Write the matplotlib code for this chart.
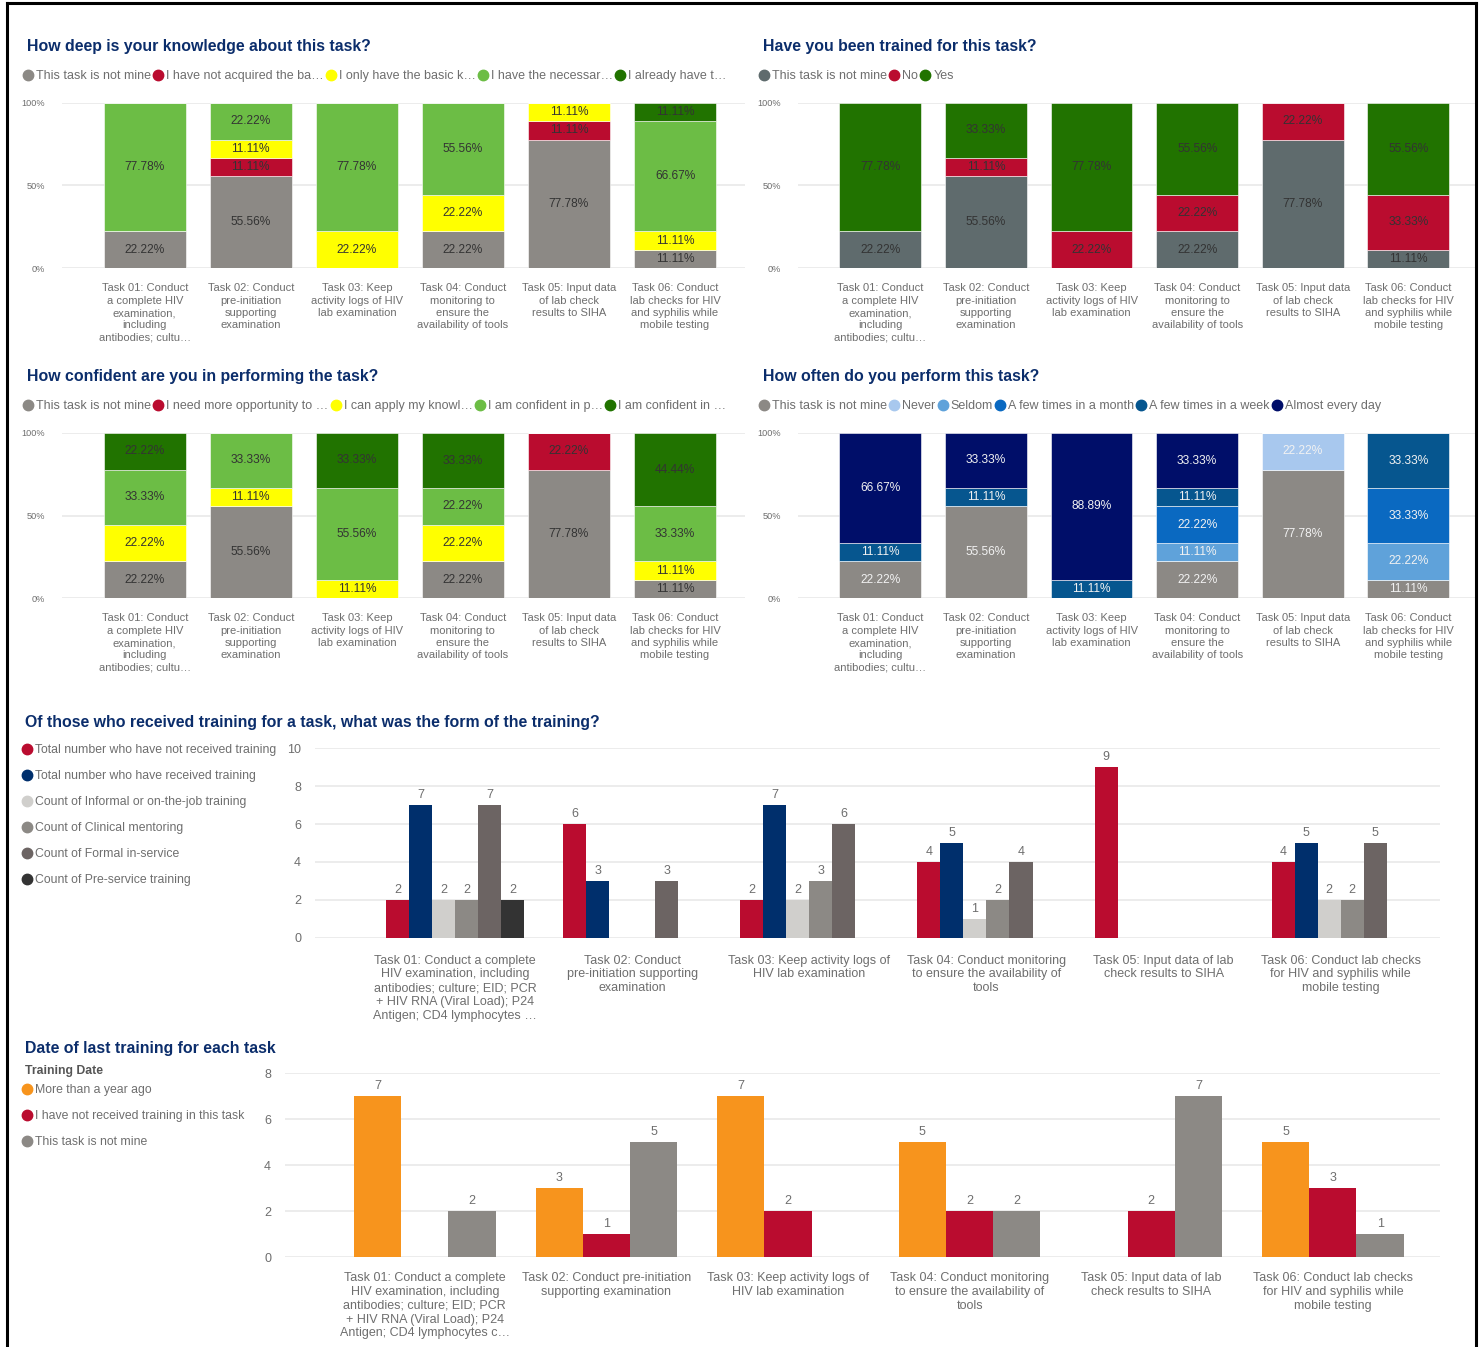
import matplotlib
matplotlib.use("Agg")
import numpy as np
import matplotlib.pyplot as plt
from matplotlib.lines import Line2D

plt.rcParams["font.family"] = ["Liberation Sans", "DejaVu Sans"]

W, H = 1483, 1347

# ---------------- data ----------------
tasks_short = [
    "Task 01: Conduct\na complete HIV\nexamination,\nincluding\nantibodies; cultu…",
    "Task 02: Conduct\npre-initiation\nsupporting\nexamination",
    "Task 03: Keep\nactivity logs of HIV\nlab examination",
    "Task 04: Conduct\nmonitoring to\nensure the\navailability of tools",
    "Task 05: Input data\nof lab check\nresults to SIHA",
    "Task 06: Conduct\nlab checks for HIV\nand syphilis while\nmobile testing",
]

# knowledge (% per task)
know_labels = ["This task is not mine", "I have not acquired the ba…", "I only have the basic k…",
               "I have the necessar…", "I already have t…"]
know_notmine = [22.22, 55.56, 0, 22.22, 77.78, 11.11]
know_notacq = [0, 11.11, 0, 0, 11.11, 0]
know_basic = [0, 11.11, 22.22, 22.22, 11.11, 11.11]
know_necessary = [77.78, 22.22, 77.78, 55.56, 0, 66.67]
know_already = [0, 0, 0, 0, 0, 11.11]

# trained
trained_labels = ["This task is not mine", "No", "Yes"]
trained_notmine = [22.22, 55.56, 0, 22.22, 77.78, 11.11]
trained_no = [0, 11.11, 22.22, 22.22, 22.22, 33.33]
trained_yes = [77.78, 33.33, 77.78, 55.56, 0, 55.56]

# confidence
conf_labels = ["This task is not mine", "I need more opportunity to …", "I can apply my knowl…",
               "I am confident in p…", "I am confident in …"]
conf_notmine = [22.22, 55.56, 0, 22.22, 77.78, 11.11]
conf_more = [0, 0, 0, 0, 22.22, 0]
conf_apply = [22.22, 11.11, 11.11, 22.22, 0, 11.11]
conf_confp = [33.33, 33.33, 55.56, 22.22, 0, 33.33]
conf_conf = [22.22, 0, 33.33, 33.33, 0, 44.44]

# frequency
freq_labels = ["This task is not mine", "Never", "Seldom", "A few times in a month",
               "A few times in a week", "Almost every day"]
freq_notmine = [22.22, 55.56, 0, 22.22, 77.78, 11.11]
freq_never = [0, 0, 0, 0, 22.22, 0]
freq_seldom = [0, 0, 0, 11.11, 0, 22.22]
freq_month = [0, 0, 0, 22.22, 0, 33.33]
freq_week = [11.11, 11.11, 11.11, 11.11, 0, 33.33]
freq_day = [66.67, 33.33, 88.89, 33.33, 0, 0]

# form of training (counts)
form_tasks = [
    "Task 01: Conduct a complete\nHIV examination, including\nantibodies; culture; EID; PCR\n+ HIV RNA (Viral Load); P24\nAntigen; CD4 lymphocytes …",
    "Task 02: Conduct\npre-initiation supporting\nexamination",
    "Task 03: Keep activity logs of\nHIV lab examination",
    "Task 04: Conduct monitoring\nto ensure the availability of\ntools",
    "Task 05: Input data of lab\ncheck results to SIHA",
    "Task 06: Conduct lab checks\nfor HIV and syphilis while\nmobile testing",
]
form_labels = ["Total number who have not received training", "Total number who have received training",
               "Count of Informal or on-the-job training", "Count of Clinical mentoring",
               "Count of Formal in-service", "Count of Pre-service training"]
form_not_received = [2, 6, 2, 4, 9, 4]
form_received = [7, 3, 7, 5, 0, 5]
form_informal = [2, 0, 2, 1, 0, 2]
form_clinical = [2, 0, 3, 2, 0, 2]
form_formal = [7, 3, 6, 4, 0, 5]
form_preservice = [2, 0, 0, 0, 0, 0]

# date of last training (counts)
date_tasks = [
    "Task 01: Conduct a complete\nHIV examination, including\nantibodies; culture; EID; PCR\n+ HIV RNA (Viral Load); P24\nAntigen; CD4 lymphocytes c…",
    "Task 02: Conduct pre-initiation\nsupporting examination",
    "Task 03: Keep activity logs of\nHIV lab examination",
    "Task 04: Conduct monitoring\nto ensure the availability of\ntools",
    "Task 05: Input data of lab\ncheck results to SIHA",
    "Task 06: Conduct lab checks\nfor HIV and syphilis while\nmobile testing",
]
date_labels = ["More than a year ago", "I have not received training in this task", "This task is not mine"]
date_more_year = [7, 3, 7, 5, 0, 5]
date_not_received = [0, 1, 2, 2, 2, 3]
date_not_mine = [2, 5, 0, 2, 7, 1]

# ---------------- style ----------------
NAVY = "#0b2d6b"
TXT = "#6e6e6e"
GRID = "#ebebeb"
GREY = "#8c8985"
RED = "#ba0c2f"
YELLOW = "#ffff00"
LGREEN = "#6cbd45"
DGREEN = "#217300"

fig = plt.figure(figsize=(W / 100, H / 100), dpi=100)


def px_axes(x0, y0, x1, y1):
    return fig.add_axes([x0 / W, 1 - y1 / H, (x1 - x0) / W, (y1 - y0) / H])


def fx(x):
    return x / W


def fy(y):
    return 1 - y / H


def style_axes(ax, ticks, fmt, fs):
    ax.set_yticks(ticks)
    ax.set_yticklabels([fmt(t) for t in ticks], fontsize=fs, color=TXT)
    ax.grid(axis="y", color=GRID, linewidth=1.3)
    ax.set_axisbelow(True)
    for s in ax.spines.values():
        s.set_visible(False)
    ax.tick_params(axis="both", length=0)


def dots(colors):
    return [Line2D([], [], marker="o", linestyle="", markersize=7.5, color=c) for c in colors]


def legend_row(x, y, labels, colors, fs=9):
    fig.legend(dots(colors), labels, loc="upper left", bbox_to_anchor=(fx(x), fy(y)),
               ncol=len(labels), frameon=False, fontsize=fs, labelcolor=TXT,
               handlelength=0.7, handletextpad=0.3, columnspacing=0.2, borderpad=0,
               borderaxespad=0)


def legend_col(x, y, labels, colors):
    fig.legend(dots(colors), labels, loc="upper left", bbox_to_anchor=(fx(x), fy(y)), ncol=1,
               frameon=False, fontsize=8.8, labelcolor=TXT, handlelength=0.7, handletextpad=0.3,
               labelspacing=1.15, borderpad=0, borderaxespad=0)


def stacked_panel(box, title, tx, ty, labels, series, colors, tc):
    ax = px_axes(*box)
    x = np.arange(len(tasks_short))
    bottom = np.zeros(len(x))
    for vals, col in zip(series, colors):
        vals = np.array(vals, dtype=float)
        ax.bar(x, vals, 0.775, bottom=bottom, color=col, edgecolor="white", linewidth=0.4)
        for xi, v, b in zip(x, vals, bottom):
            if v > 0:
                ax.text(xi, b + v / 2, f"{v:.2f}%", ha="center", va="center", fontsize=8.6, color=tc)
        bottom += vals
    ax.set_ylim(0, 100)
    ax.set_xlim(-0.78, 5.66)
    style_axes(ax, [0, 50, 100], lambda t: f"{t}%", 6.6)
    ax.tick_params(axis="y", pad=12)
    ax.set_xticks(x)
    ax.set_xticklabels(tasks_short, fontsize=8, color=TXT, linespacing=1.3, va="top")
    ax.tick_params(axis="x", pad=11)
    fig.text(fx(tx), fy(ty), title, fontsize=11.4, fontweight="bold", color=NAVY, va="center")
    legend_row(tx - 3, ty + 23, labels, colors)
    return ax


DARK = "#333333"
WHITE = "#f2f2f2"

stacked_panel((62, 103, 745, 268), "How deep is your knowledge about this task?", 27, 47,
              know_labels,
              [know_notmine, know_notacq, know_basic, know_necessary, know_already],
              [GREY, RED, YELLOW, LGREEN, DGREEN], DARK)

stacked_panel((798, 103, 1478, 268), "Have you been trained for this task?", 763, 47,
              trained_labels, [trained_notmine, trained_no, trained_yes],
              ["#5f6b6d", RED, DGREEN], DARK)

stacked_panel((62, 433, 745, 598), "How confident are you in performing the task?", 27, 377,
              conf_labels, [conf_notmine, conf_more, conf_apply, conf_confp, conf_conf],
              [GREY, RED, YELLOW, LGREEN, DGREEN], DARK)

stacked_panel((798, 433, 1478, 598), "How often do you perform this task?", 763, 377,
              freq_labels, [freq_notmine, freq_never, freq_seldom, freq_month, freq_week, freq_day],
              [GREY, "#a8c8ee", "#5fa2da", "#0a69c1", "#06568f", "#000e69"], WHITE)


def grouped_panel(box, series, colors, width, xlim, ylim, ticks, xlabels, pad):
    ax = px_axes(*box)
    x = np.arange(len(xlabels))
    n = len(series)
    for i, (vals, col) in enumerate(zip(series, colors)):
        off = (i - (n - 1) / 2) * width
        ax.bar(x + off, vals, width, color=col)
        for xi, v in zip(x, vals):
            if v > 0:
                ax.text(xi + off, v + ylim * 0.02, str(v), ha="center", va="bottom", fontsize=9, color=TXT)
    ax.set_xlim(*xlim)
    ax.set_ylim(0, ylim)
    style_axes(ax, ticks, str, 9)
    ax.tick_params(axis="y", pad=10)
    ax.set_xticks(x)
    ax.set_xticklabels(xlabels, fontsize=9, color=TXT, linespacing=1.2, va="top")
    ax.tick_params(axis="x", pad=pad)
    return ax


# form of training
fig.text(fx(25), fy(723), "Of those who received training for a task, what was the form of the training?",
         fontsize=11.4, fontweight="bold", color=NAVY, va="center")
form_colors = [RED, "#002f6c", "#d0cfcc", GREY, "#6c6463", "#333333"]
grouped_panel((315, 748, 1440, 938),
              [form_not_received, form_received, form_informal, form_clinical, form_formal, form_preservice],
              form_colors, 0.13, (-0.79, 5.56), 10, [0, 2, 4, 6, 8, 10], form_tasks, 12)
legend_col(23, 744, form_labels, form_colors)

# date of last training
fig.text(fx(25), fy(1049), "Date of last training for each task", fontsize=11.4, fontweight="bold",
         color=NAVY, va="center")
fig.text(fx(25), fy(1071), "Training Date", fontsize=8.8, fontweight="bold", color="#555555", va="center")
date_colors = ["#f7941d", RED, GREY]
grouped_panel((285, 1073, 1440, 1257),
              [date_more_year, date_not_received, date_not_mine],
              date_colors, 0.26, (-0.77, 5.59), 8, [0, 2, 4, 6, 8], date_tasks, 11)
legend_col(23, 1084, date_labels, date_colors)

# outer frame
frame = dict(color="black", linewidth=2.2, transform=fig.transFigure)
fig.add_artist(Line2D([fx(7), fx(1476)], [fy(3), fy(3)], **frame))
fig.add_artist(Line2D([fx(7), fx(7)], [fy(3), 0], **frame))
fig.add_artist(Line2D([fx(1476), fx(1476)], [fy(3), 0], **frame))

fig.savefig("out.png", dpi=100)
